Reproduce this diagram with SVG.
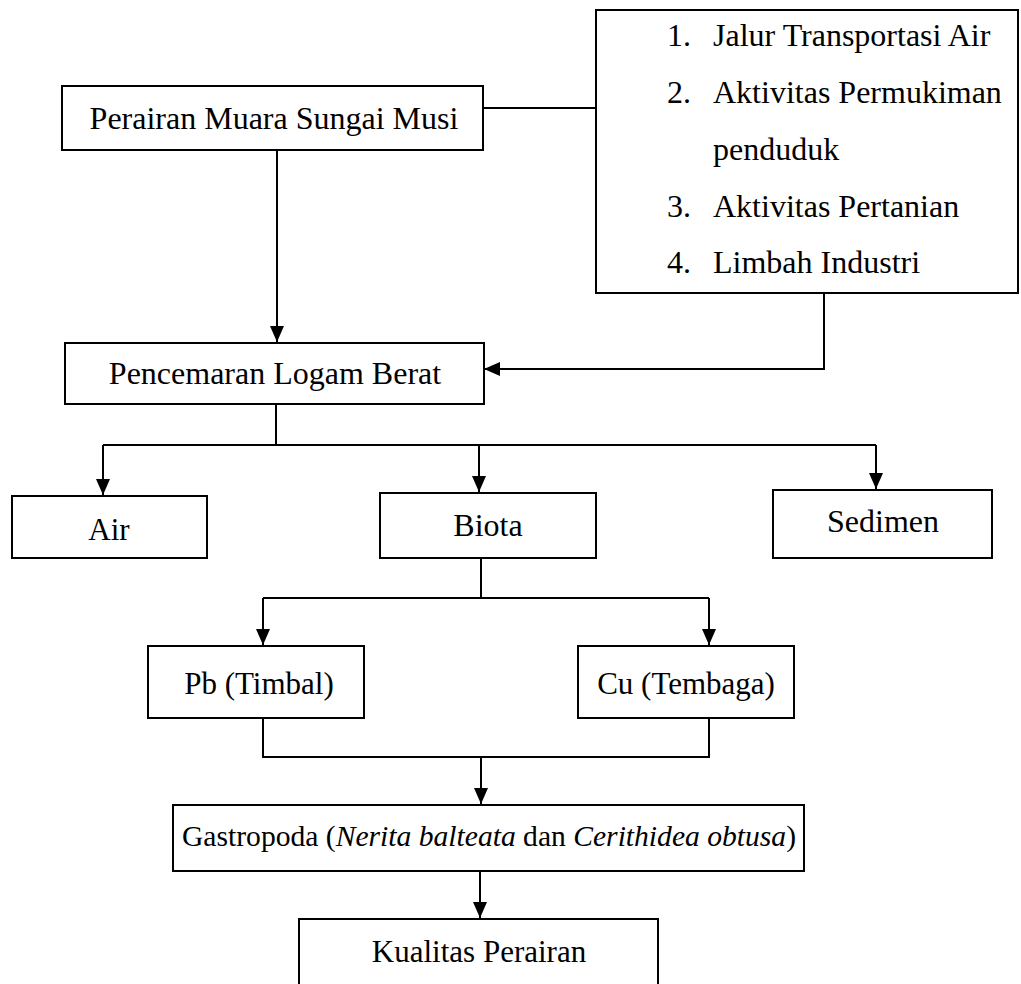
<svg xmlns="http://www.w3.org/2000/svg" width="1021" height="984" viewBox="0 0 1021 984">
<style>
.box{fill:#fff;stroke:#000;stroke-width:2}
.t{font-family:"Liberation Serif","Times New Roman",serif;font-size:32px;fill:#000}
.s{font-size:31px}
.g{font-size:29.6px}
.c{text-anchor:middle}
.ln{fill:none;stroke:#000;stroke-width:2}
</style>
<defs>
<marker id="ah" markerUnits="userSpaceOnUse" markerWidth="16" markerHeight="14" refX="16" refY="7" orient="auto">
<path d="M0,0 L16,7 L0,14 z" fill="#000"/>
</marker>
</defs>
<rect width="1021" height="984" fill="#fff"/>
<g id="connectors">
<path class="ln" d="M483,108 H596"/>
<path class="ln" d="M277,150 V342" marker-end="url(#ah)"/>
<path class="ln" d="M824,293 V369 H484" marker-end="url(#ah)"/>
<path class="ln" d="M276,404 V445"/>
<path class="ln" d="M103,445 H876"/>
<path class="ln" d="M103,445 V495" marker-end="url(#ah)"/>
<path class="ln" d="M479,445 V492" marker-end="url(#ah)"/>
<path class="ln" d="M876,445 V489" marker-end="url(#ah)"/>
<path class="ln" d="M481,558 V598"/>
<path class="ln" d="M263,598 H709"/>
<path class="ln" d="M263,598 V645" marker-end="url(#ah)"/>
<path class="ln" d="M709,598 V645" marker-end="url(#ah)"/>
<path class="ln" d="M263,718 V757 H709 V718"/>
<path class="ln" d="M481,757 V804" marker-end="url(#ah)"/>
<path class="ln" d="M480,871 V918" marker-end="url(#ah)"/>
</g>
<g id="perairan">
<rect class="box" x="62" y="86" width="421" height="64"/>
<text class="t c" x="274" y="129">Perairan Muara Sungai Musi</text>
</g>
<g id="sumber">
<rect class="box" x="596" y="10" width="422" height="283"/>
<text class="t" x="667" y="46">1.</text><text class="t" x="713" y="46">Jalur Transportasi Air</text>
<text class="t" x="667" y="103">2.</text><text class="t" x="713" y="103">Aktivitas Permukiman</text>
<text class="t" x="713" y="160">penduduk</text>
<text class="t" x="667" y="217">3.</text><text class="t" x="713" y="217">Aktivitas Pertanian</text>
<text class="t" x="667" y="273">4.</text><text class="t" x="713" y="273">Limbah Industri</text>
</g>
<g id="pencemaran">
<rect class="box" x="65" y="343" width="419" height="61"/>
<text class="t c" x="275" y="384">Pencemaran Logam Berat</text>
</g>
<g id="air">
<rect class="box" x="12" y="496" width="195" height="62"/>
<text class="t s c" x="109" y="540">Air</text>
</g>
<g id="biota">
<rect class="box" x="380" y="493" width="216" height="65"/>
<text class="t c" x="488" y="536">Biota</text>
</g>
<g id="sedimen">
<rect class="box" x="773" y="490" width="219" height="68"/>
<text class="t c" x="883" y="532">Sedimen</text>
</g>
<g id="pb">
<rect class="box" x="148" y="646" width="216" height="72"/>
<text class="t s c" x="259" y="694">Pb (Timbal)</text>
</g>
<g id="cu">
<rect class="box" x="578" y="646" width="216" height="72"/>
<text class="t s c" x="686" y="694">Cu (Tembaga)</text>
</g>
<g id="gastropoda">
<rect class="box" x="173" y="805" width="631" height="66"/>
<text class="t g c" x="489" y="846">Gastropoda (<tspan font-style="italic">Nerita balteata</tspan> dan <tspan font-style="italic">Cerithidea obtusa</tspan>)</text>
</g>
<g id="kualitas">
<rect class="box" x="299" y="919" width="359" height="80"/>
<text class="t s c" x="479" y="962">Kualitas Perairan</text>
</g>
</svg>
